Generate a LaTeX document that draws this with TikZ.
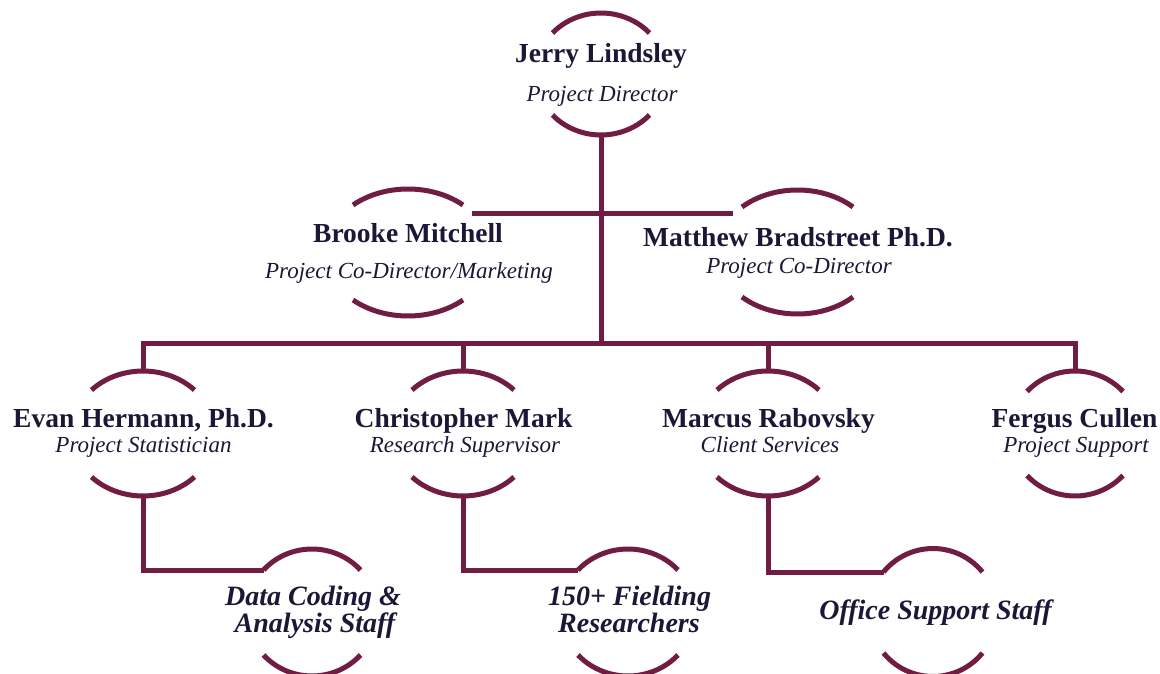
\documentclass[tikz,border=0pt]{standalone}
\usepackage{fontspec}
\setmainfont{Liberation Serif}
\usetikzlibrary{calc}
\definecolor{maroon}{RGB}{113,28,66}
\definecolor{inkblue}{RGB}{26,24,54}
\newcommand{\orgcirc}[6]{%
  \pgfmathsetmacro\oct{asin(#5/#6)}%
  \pgfmathsetmacro\oca{#4/cos(\oct)}%
  \coordinate (#1) at (#2,#3);
  \coordinate (#1-top) at (#2,#3-#6);
  \coordinate (#1-bot) at (#2,#3+#6);
  \coordinate (#1-tl) at (#2-#4,#3-#5);
  \coordinate (#1-tr) at (#2+#4,#3-#5);
  \coordinate (#1-bl) at (#2-#4,#3+#5);
  \coordinate (#1-br) at (#2+#4,#3+#5);
  \draw[arcline] (#1-tl) arc[start angle=180+\oct, end angle=360-\oct, x radius=\oca, y radius=#6];
  \draw[arcline] (#1-bl) arc[start angle=180-\oct, end angle=\oct, x radius=\oca, y radius=#6];
}
\begin{document}
\begin{tikzpicture}[x=1pt,y=-1pt,
  arcline/.style={draw=maroon,line width=5pt},
  conn/.style={draw=maroon,line width=5pt},
  pname/.style={anchor=base,inner sep=0pt,text=inkblue,font=\fontsize{27.5}{30}\selectfont\bfseries},
  ptitle/.style={anchor=base,inner sep=0pt,text=inkblue,font=\fontsize{23}{26}\selectfont\itshape},
  pstaff/.style={anchor=base,inner sep=0pt,text=inkblue,font=\fontsize{28}{30}\selectfont\bfseries\itshape}]
\useasboundingbox[fill=white] (0,0) rectangle (1160,674);

% circles: name, cx, cy, half-width, end offset, apex offset
\orgcirc{jerry}{601}{74}{48.5}{41}{61}
\orgcirc{brooke}{408}{252.5}{55}{47.5}{63.5}
\orgcirc{matthew}{797.5}{252}{55.5}{45}{62}
\orgcirc{evan}{143}{433.5}{51.5}{43.5}{62.5}
\orgcirc{chris}{463}{433.5}{51}{43.5}{62.5}
\orgcirc{marcus}{768}{433.5}{51}{43.5}{62.5}
\orgcirc{fergus}{1075}{433.5}{48}{42}{62.5}
\orgcirc{data}{312}{612.5}{48.5}{42.5}{63.5}
\orgcirc{field}{628}{612.5}{50}{42.5}{63.5}
\orgcirc{office}{933}{612.5}{49.5}{40.5}{64}

% connectors
\coordinate (bus) at (601,343);
\coordinate (busL) at (143,343);
\coordinate (busR) at (1075,343);
\coordinate (coBL) at (472,213);
\coordinate (coBR) at (733,213);
\draw[conn] (jerry-bot) -- (bus);
\draw[conn] (coBL) -- (coBR);
\draw[conn] (evan-top) -- (busL) -- (busR) -- (fergus-top);
\draw[conn] (chris-top) -- (chris-top |- bus);
\draw[conn] (marcus-top) -- (marcus-top |- bus);
\draw[conn] (evan-bot) |- (data-tl);
\draw[conn] (chris-bot) |- (field-tl);
\draw[conn] (marcus-bot) |- (office-tl);

% texts
\node[pname]  (jerryN)  at (601,63)  {Jerry Lindsley};
\node[ptitle] (jerryT)  at (602,102) {Project Director};
\node[pname]  (brookeN) at (408,242) {Brooke Mitchell};
\node[ptitle] (brookeT) at (409,278) {Project Co-Director/Marketing};
\node[pname]  (mattN)   at (798,247) {Matthew Bradstreet Ph.D.};
\node[ptitle] (mattT)   at (799,273) {Project Co-Director};
\node[pname]  (evanN)   at (143.5,427) {Evan Hermann, Ph.D.};
\node[ptitle] (evanT)   at (143.5,452) {Project Statistician};
\node[pname]  (chrisN)  at (463.5,427) {Christopher Mark};
\node[ptitle] (chrisT)  at (465,452) {Research Supervisor};
\node[pname]  (marcusN) at (768.5,427) {Marcus Rabovsky};
\node[ptitle] (marcusT) at (770,452) {Client Services};
\node[pname]  (fergusN) at (1074.5,427) {Fergus Cullen};
\node[ptitle] (fergusT) at (1076,452) {Project Support};
\node[pstaff] (dataA)   at (313,605) {Data Coding \&};
\node[pstaff] (dataB)   at (315,632) {Analysis Staff};
\node[pstaff] (fieldA)  at (629.5,605) {150+ Fielding};
\node[pstaff] (fieldB)  at (629,632) {Researchers};
\node[pstaff] (officeA) at (935.5,619) {Office Support Staff};
\end{tikzpicture}
\end{document}
